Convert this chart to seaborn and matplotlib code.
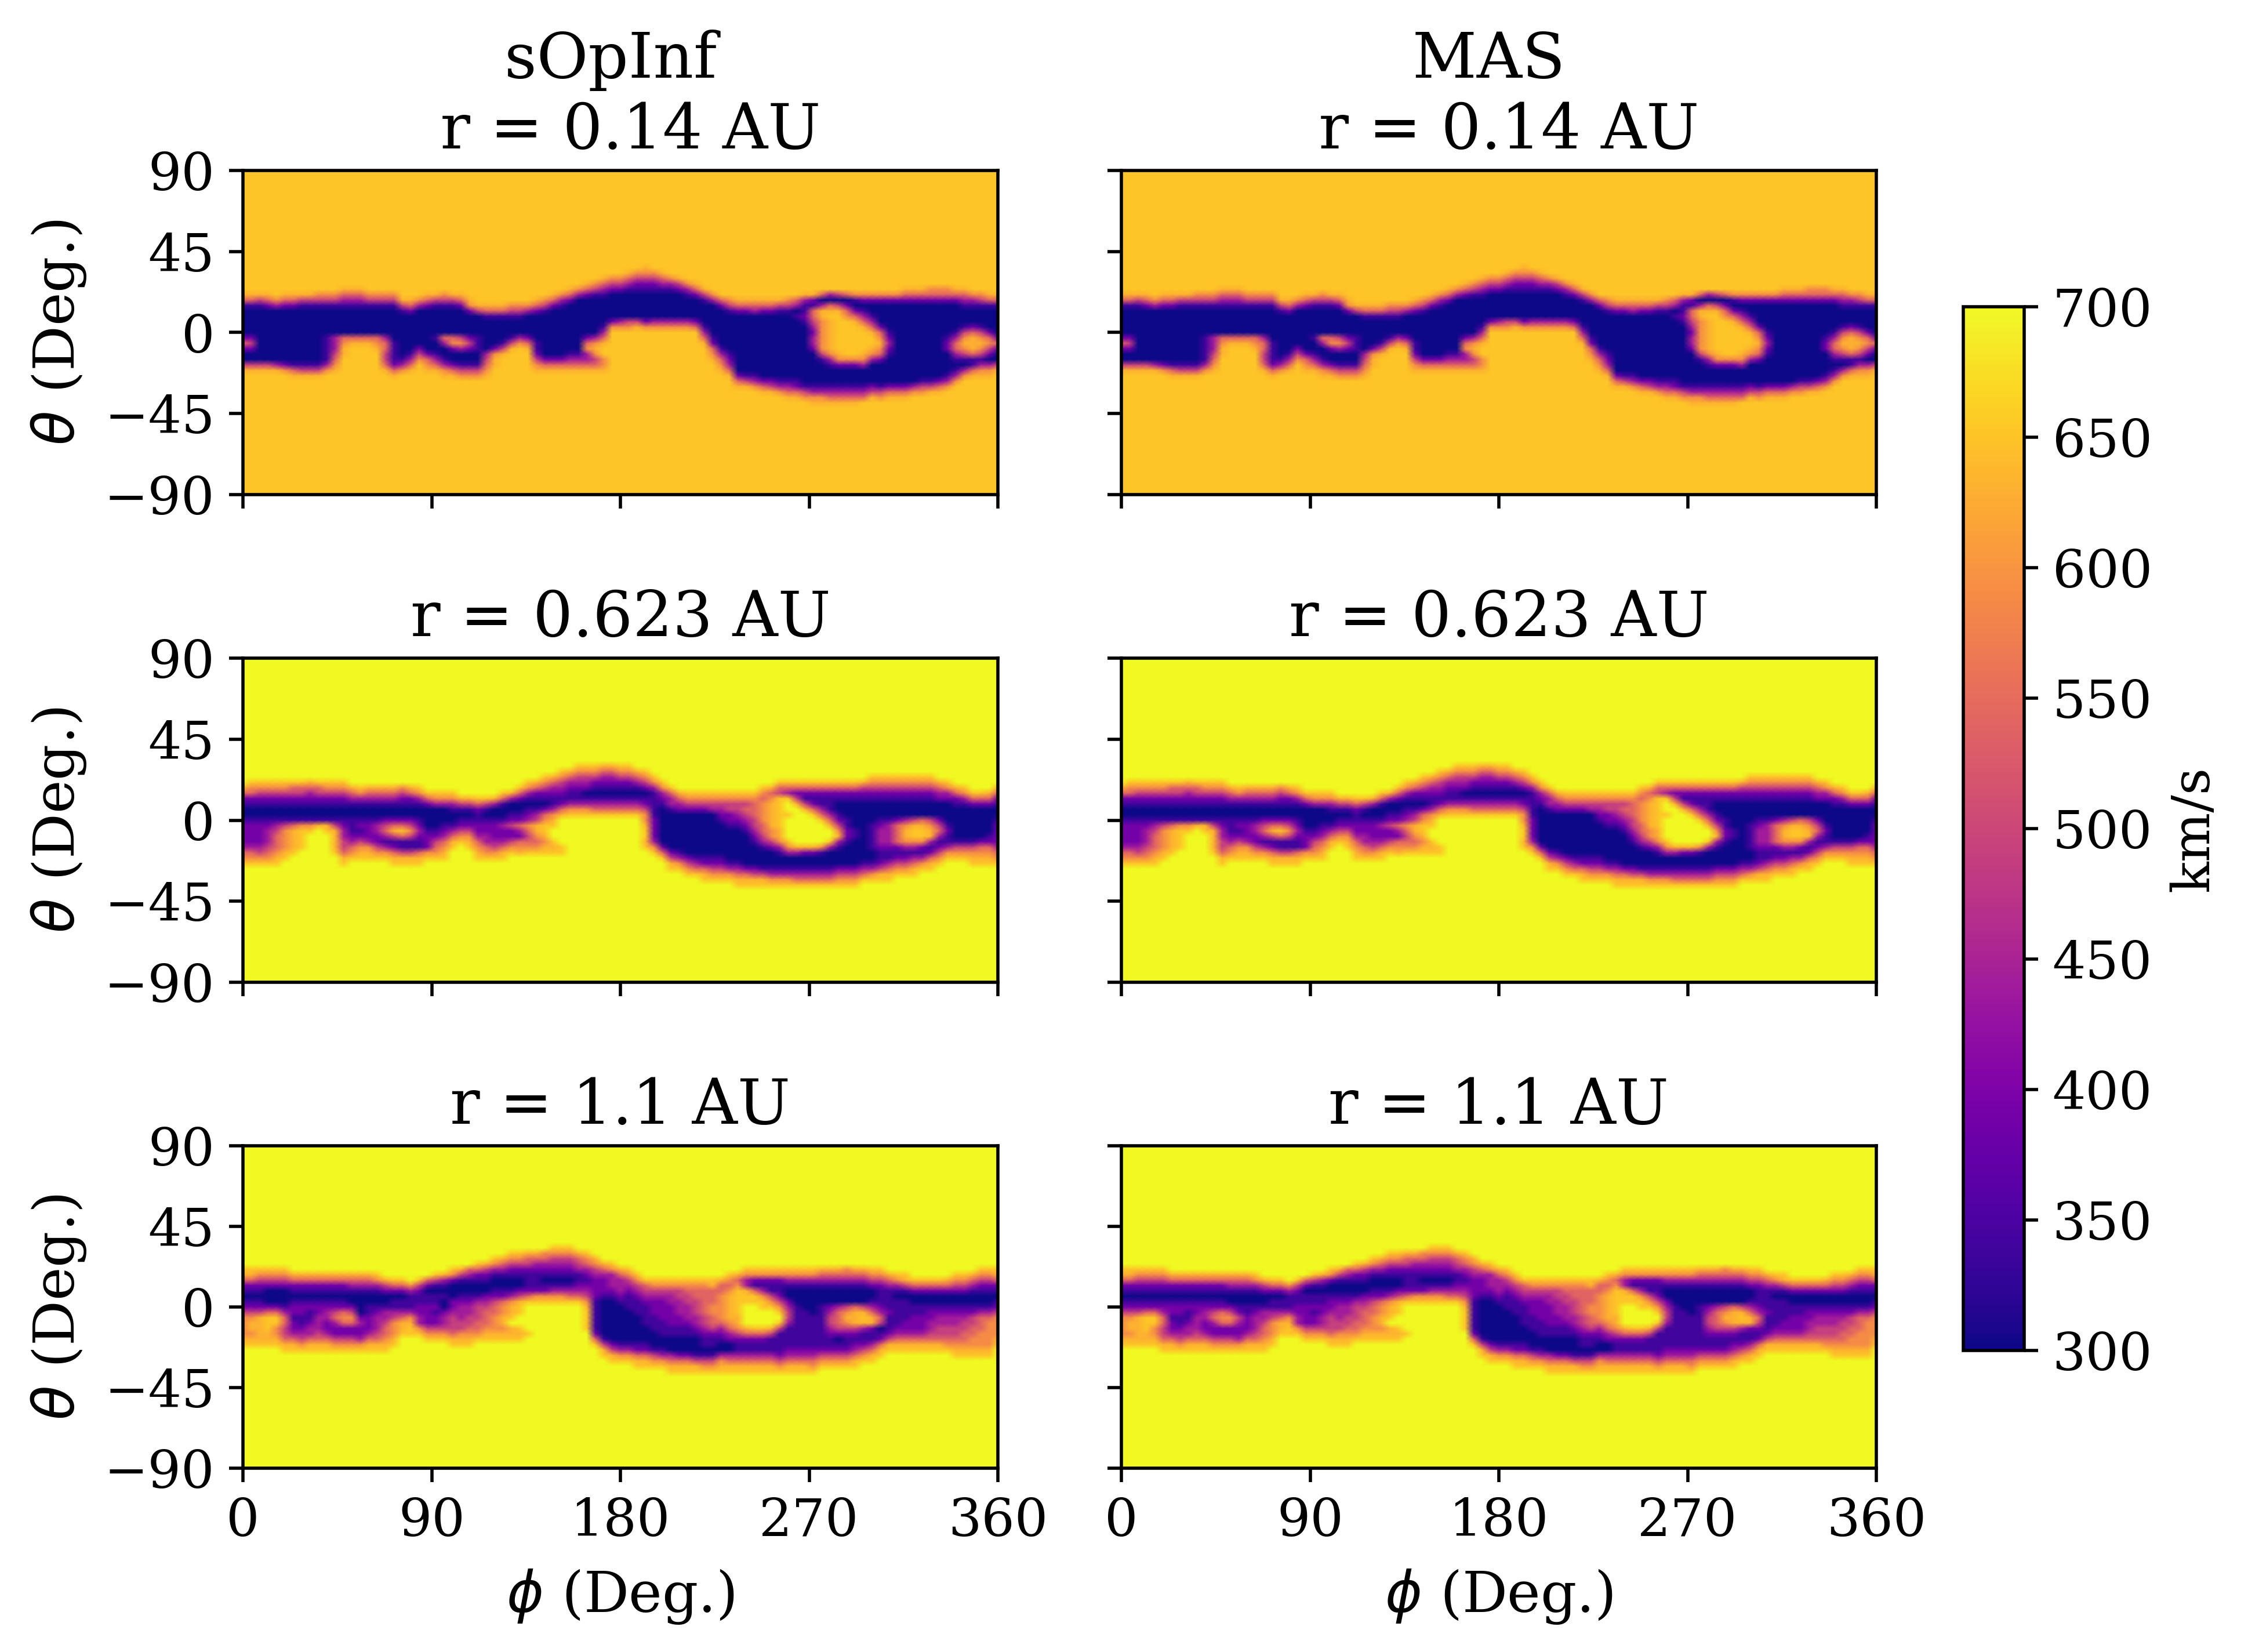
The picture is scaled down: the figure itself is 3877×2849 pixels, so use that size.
# solar wind speed maps, sOpInf vs MAS, at three radii
import numpy as np
import pandas as pd
import matplotlib
matplotlib.use("Agg")
import matplotlib.pyplot as plt
import seaborn as sns

models = ["sOpInf", "MAS"]
radii = ["0.14", "0.623", "1.1"]
phi_ticks = [0, 90, 180, 270, 360]
theta_ticks = [90, 45, 0, -45, -90]
theta_labels = ["90", "45", "0", "\u221245", "\u221290"]
cbar_ticks = [300, 350, 400, 450, 500, 550, 600, 650, 700]

# speed levels (km/s) for the digits used in the columns below
levels = [300, 340, 390, 440, 490, 540, 590, 630, 650, 700]

# background speed away from the sheet
bg_014 = 8
bg_far = 9

# one string per phi (4 deg steps), digits run theta = 36 down to -42 in 3 deg steps
cols_014 = [
    "88888751000002520047", "88888751000002420047", "88888741000000000047", "88888752000000000047",
    "88888863000000000037", "88888752000000000026", "888887520000000000157", "888887410000000000147",
    "888887410000000000147", "888886410000000000147", "88888641000001111136", "88888641000003334567",
    "88887531000005677", "888875310000057", "888875310000057", "888886410000057",
    "8888864100000567", "88888641000003554457", "888886410000001111257", "88888874100000000136",
    "888888752000000013 57".replace(" ", ""), "888888630000000246", "88888752000000002567", "8888874100000100" + "1357",
    "88888641000005300" + "1367", "88888741000005620" + "0257", "88888752000004630" + "0146", "888888762" + "0000242" + "00146",
    "888888874" + "0000111" + "00146", "8888888751" + "000000" + "34567", "8888888751" + "00000" + "2677", "8888888751" + "0000" + "147",
    "8888888641" + "000147", "8888888641" + "00036", "8888888630" + "000257", "888888752" + "00000112467",
    "888888641" + "00000000257", "88888752" + "000000000257", "88888631" + "000000000257", "88887520" + "00000000" + "1357",
    "888863" + "0000000000" + "1357", "888752" + "0000000" + "2563357", "888641" + "0000000" + "3676457", "887531" + "00000" + "135788667",
    "88642" + "00000" + "26", "88642" + "00000" + "36", "87531" + "00000" + "46", "86421" + "00000" + "47",
    "76421" + "00000" + "26", "86421" + "00000" + "36", "87531" + "00000" + "36", "88631" + "00000" + "36",
    "88742" + "00000" + "36", "888631" + "0000" + "36", "888752" + "0000" + "25", "8888741" + "0000" + "1357",
    "8888863" + "000000" + "12567", "88888852" + "0000000" + "13567", "888888641" + "0000000" + "12357", "888888752" + "00000000000" + "257",
    "888888752" + "00000000000" + "147", "888888753" + "00000000000" + "136", "888888752" + "000000000000" + "257", "888888752" + "000000000000" + "247",
    "888888741" + "000000000000" + "136", "888888641" + "000000000000" + "1357", "888888530" + "1" + "00000000000" + "1257", "88888731121" + "00000000000" + "146",
    "8888872155432332" + "000000" + "1367", "8888850377" + "666666" + "41" + "0000" + "1367", "8888830578" + "777777" + "631" + "000" + "1357", "8888840478" + "888888" + "762" + "000" + "1357",
    "8888850256" + "8888888" + "62" + "000" + "1357", "88888610257" + "888888" + "62" + "000" + "1357", "888886201357" + "8888" + "763" + "000" + "1358", "888886200135788763" + "0000" + "247",
    "8888862" + "0000" + "2567652" + "0000" + "146", "8888862" + "00000" + "12321" + "00000" + "257", "8888862" + "000000000000000" + "257", "8888752" + "000000000000000" + "257",
    "8888752" + "000000000000000" + "36", "8888752" + "00000000000000" + "146", "8888652" + "00000000000000" + "147", "8888652" + "00000000000000" + "257",
    "8888652" + "000000" + "122" + "0000" + "136", "8888752" + "00000" + "1355310136", "88887531" + "000" + "1467641" + "0" + "36", "88888631" + "000" + "2577751" + "157",
    "88888641" + "000" + "1467641" + "367", "88888751" + "0000" + "256420" + "367",
]

cols_0623 = [
    "999999752100122223568", "99999865210012222 3568".replace(" ", ""), "99999864" + "2100122223468", "99999864" + "2100123334568",
    "99999864" + "2100134555678", "999998" + "64210014666678", "999998" + "542100157777" + "8", "999998" + "5421001" + "68888",
    "999997" + "5321001" + "689", "999998" + "5421001" + "79", "999998" + "6421001" + "78", "999998" + "6421001" + "477778",
    "999998" + "6421001" + "2334" + "4578", "999999" + "75310011123568", "999999" + "86310012124678", "999999" + "75310012223678",
    "999999" + "75310013322468", "999999" + "75310024531368", "999999" + "753100257412578", "999999" + "642100258511478",
    "999999" + "752100246411478", "999999" + "863100123211578", "9999999" + "8520000122268", "9999999" + "8630000124568",
    "9999999" + "8630001235678", "9999999" + "86310013578", "99999999" + "741012468", "99999999" + "7410124678",
    "99999999" + "852112235678", "99999999" + "841012233568", "99999999" + "730012223468", "9999999" + "8510013223578",
    "9999999" + "730012422468", "999999" + "8520012532567", "99999" + "86310123654568", "99999" + "75210134776568",
    "9999" + "864210256887678", "9999" + "753211367899878", "999" + "864321257" + "99999" + "88", "999" + "753211368",
    "99" + "8643211368", "99" + "8643201368", "99" + "8642101358", "99" + "7532101358",
    "99" + "7532101358", "99" + "8642101358", "99" + "8642101358", "999" + "753101358",
    "999" + "864201246678878", "9999" + "863111112222368", "99999" + "86321" + "0000000" + "258", "999999" + "85331" + "0000000" + "2478",
    "9999999" + "7532" + "0000000" + "1368", "9999999" + "8642" + "00000000" + "2468", "9999999" + "8642" + "00000000" + "1358", "9999999" + "8642" + "00000000" + "12578",
    "9999999" + "8643" + "00000000" + "12468", "9999999" + "864321" + "000000" + "12468", "9999999" + "8644221" + "000000" + "1368", "9999999" + "8644321" + "000000" + "13578",
    "9999999" + "86454321" + "000000" + "2578", "9999999" + "8655544321" + "0000" + "2478", "999999" + "865666655431" + "000" + "1478", "999999" + "756777776642" + "000" + "1368",
    "99999" + "85488888877631" + "00" + "1368", "99999" + "85389989999863" + "00" + "1368", "99999" + "85247999999973" + "00" + "1358", "99999" + "85214799999972" + "00" + "1358",
    "99999" + "85212589999972" + "00" + "1358", "99999" + "85211358999961" + "00" + "1358", "99999" + "85211135799830" + "00" + "1358", "99999" + "85210012467310" + "00" + "2468",
    "99999" + "85210001122100" + "00" + "2468", "99999" + "85210000011000" + "00" + "2468", "99999" + "7421" + "00000000000" + "1358", "9999" + "86421" + "0000" + "11111" + "00" + "1368",
    "9999" + "86421" + "000" + "12333211" + "2478", "9999" + "86421" + "000" + "13333211" + "3578", "9999" + "86421" + "000" + "25555212" + "468", "9999" + "86421" + "000" + "36776312" + "468",
    "9999" + "86421" + "000" + "47886313" + "578", "9999" + "86421" + "000" + "57886213" + "68", "9999" + "86421000" + "4677312578", "99999" + "7532" + "000" + "245312468",
    "99999" + "8632" + "0000" + "1211368", "999999" + "7521" + "000000" + "1468", "999999" + "8631" + "000000" + "1468", "9999999" + "852" + "000000" + "14678",
    "9999999" + "852" + "000000" + "25678", "9999999" + "752" + "00000" + "125678",
]

cols_11 = [
    "99999" + "875210124666678", "99999" + "875210124677678", "99999" + "864210124777778", "99999" + "864210125888778",
    "99999" + "864210125886678", "99999" + "8642101235544578", "99999" + "9752101221223578", "99999" + "9752101221123468",
    "99999" + "9752101211233578", "99999" + "9752101223334578", "99999" + "9752101233223578", "99999" + "9752101245322468",
    "99999" + "9752101256522468", "99999" + "9753100246522468", "99999" + "9753100124322368", "99999" + "9753100112223578",
    "999999" + "863100123334578", "9999999" + "74200133455678", "9999999" + "8520113466678", "9999999" + "85201135778",
    "99999999" + "6311136788", "9999999" + "84211223368", "9999999" + "520112222468", "999999" + "8410112122468",
    "999999" + "7310112233468", "99999" + "862001223444578", "99999" + "741001233344678", "99999" + "531001233445678",
    "9999" + "852100134445568", "9999" + "742100234555678", "999" + "8631001245566678", "999" + "7531001256677678",
    "99" + "86421001367789778", "99" + "86421002478899878", "99" + "7542111258999998", "99" + "7532111268",
    "99" + "6532101268", "9" + "86432101368", "9" + "86432101368", "9" + "86432101358",
    "99" + "7543112358", "99" + "865321234678888", "999" + "76432222111111258", "9999" + "753222100000001478",
    "9999" + "8633321" + "00000000" + "2478", "99999" + "7533321" + "0000000" + "1368", "99999" + "86432111" + "000000" + "1368", "999999" + "86432111" + "00000" + "12578",
    "9999999" + "85432111100012578", "9999999" + "86432221110001468", "9999999" + "86432222111001368", "9999999" + "864332222110003578",
    "9999999" + "864433322110002578", "9999999" + "865443332110002578", "9999999" + "865544433210001478", "9999999" + "865555544321101468",
    "9999999" + "875556655421101468", "9999999" + "755666665321003678", "999999" + "8656777776532003578", "999999" + "7568888877642113578",
    "99999" + "86337889999752113578", "99999" + "86215889999852113578", "99999" + "86213688999852113578", "99999" + "86211468999741113578",
    "99999" + "86211246898411112468", "99999" + "86310023443111123578", "99999" + "86310001111111123578", "99999" + "86310000111111123578",
    "99999" + "86310000011111123568", "99999" + "7531000" + "11111111" + "2468", "99999" + "7531000" + "23443211" + "2468", "99999" + "7531000" + "35554211" + "2468",
    "99999" + "6531000" + "46764211" + "2468", "99999" + "7531000" + "5777421" + "23578", "99999" + "7531000" + "4787311" + "2468", "99999" + "8642001" + "3577211" + "3578",
    "99999" + "8642111" + "2354212" + "578", "999999" + "753111121112478", "999999" + "863101111123578", "999999" + "874101111223578",
    "9999999" + "85200112223578", "9999999" + "85200112223578", "9999999" + "85200122334578", "9999999" + "85200123344578",
    "9999999" + "75200123344568", "999999" + "8642001233445678", "999999" + "8642001234455678", "999999" + "7531001244556678",
    "99999" + "86421001355566678", "99999" + "86421001356666678",
]

# sOpInf at 1.1 AU differs from MAS in a few blotchy columns (index = phi / 4)
sopinf_11_cols = {
    3: "99999" + "864200025888778",
    4: "99999" + "864200025886678",
    5: "99999" + "8642000135544578",
    14: "99999" + "9753100002322368",
    24: "999999" + "7310100233468",
    25: "99999" + "862000223444578",
    71: "99999" + "7531000" + "35554201" + "2468",
    76: "99999" + "8642111" + "2354012" + "578",
}


def build_map(cols, bg):
    # turn the digit columns into a full theta-phi table of speeds
    grid = np.array([[int(c) for c in s[:27].ljust(27, str(bg))] for s in cols]).T
    speed = np.array(levels)[grid]
    top = np.full((18, speed.shape[1]), levels[bg])
    bottom = np.full((16, speed.shape[1]), levels[bg])
    speed = np.vstack([top, speed, bottom])
    speed = np.hstack([speed, speed[:, :1]])
    phi = np.arange(0, 364, 4)
    theta = np.arange(90, -93, -3)
    return pd.DataFrame(speed, index=theta, columns=phi)


cols_11_sopinf = list(cols_11)
for c in sopinf_11_cols:
    cols_11_sopinf[c] = sopinf_11_cols[c]

maps = {("sOpInf", "0.14"): build_map(cols_014, bg_014),
        ("MAS", "0.14"): build_map(cols_014, bg_014),
        ("sOpInf", "0.623"): build_map(cols_0623, bg_far),
        ("MAS", "0.623"): build_map(cols_0623, bg_far),
        ("sOpInf", "1.1"): build_map(cols_11_sopinf, bg_far),
        ("MAS", "1.1"): build_map(cols_11, bg_far)}

sns.set_style("ticks", {"axes.edgecolor": "black", "xtick.color": "black", "ytick.color": "black",
                        "text.color": "black", "axes.labelcolor": "black"})
plt.rcParams["font.family"] = ["DejaVu Serif"]
plt.rcParams["font.size"] = 13
plt.rcParams["xtick.major.size"] = 3.5
plt.rcParams["ytick.major.size"] = 3.5

W, H = 3877, 2849
fig = plt.figure(figsize=(W / 500, H / 500), dpi=500)

col_x = [(419, 1721), (1934, 3236)]
row_y = [(294, 853), (1135, 1694), (1976, 2532)]
cax = fig.add_axes([3386 / W, 1 - 2329 / H, (3491 - 3386) / W, (2329 - 529) / H])

for j, model in enumerate(models):
    for i, r in enumerate(radii):
        x0, x1 = col_x[j]
        y0, y1 = row_y[i]
        ax = fig.add_axes([x0 / W, 1 - y1 / H, (x1 - x0) / W, (y1 - y0) / H])
        first = (i == 0 and j == 0)
        data = maps[(model, r)]
        sns.heatmap(data, ax=ax, cmap="plasma", vmin=300, vmax=700, shading="gouraud",
                    xticklabels=False, yticklabels=False, cbar=first,
                    cbar_ax=cax if first else None,
                    cbar_kws={"ticks": cbar_ticks} if first else None)
        ny, nx = data.shape
        ax.set_xlim(0, nx - 1)
        ax.set_ylim(ny - 1, 0)
        for s in ax.spines.values():
            s.set_visible(True)
            s.set_linewidth(0.8)
            s.set_color("black")

        ax.set_xticks([p / 4 for p in phi_ticks])
        ax.set_yticks([(90 - t) / 3 for t in theta_ticks])
        ax.set_xticklabels([str(p) for p in phi_ticks] if i == 2 else [], fontsize=13)
        ax.set_yticklabels(theta_labels if j == 0 else [], fontsize=13, rotation=0)
        ax.tick_params(left=True, bottom=True, length=3.5, width=0.8)

        title = "r = %s AU" % r
        if i == 0:
            # the spaces around the line break shift the two lines apart like the original
            title = model + " \n " + title
        ax.set_title(title, fontsize=15.6, pad=5.5)
        if i == 2:
            ax.set_xlabel(r"$\phi$ (Deg.)", fontsize=14, labelpad=5)
        else:
            ax.set_xlabel("")
        if j == 0:
            ax.set_ylabel(r"$\theta$ (Deg.)", fontsize=14, labelpad=4)
        else:
            ax.set_ylabel("")
        if first:
            cb = ax.collections[0].colorbar

cb.outline.set_visible(True)
cb.outline.set_linewidth(0.8)
cb.outline.set_edgecolor("black")
cb.ax.tick_params(length=3.5, width=0.8, labelsize=13, color="black")
cb.set_label("km/s", fontsize=13, labelpad=4)

fig.savefig("out.png", dpi=500)
